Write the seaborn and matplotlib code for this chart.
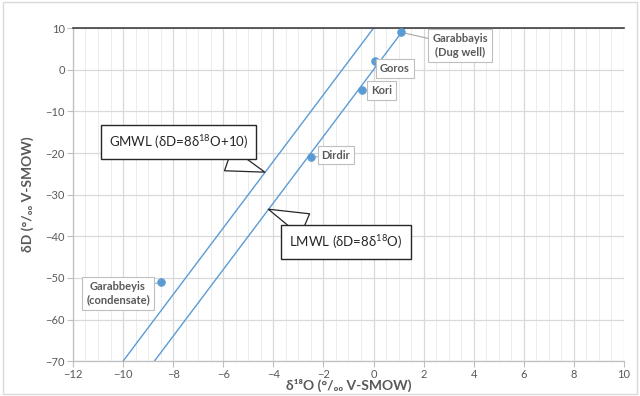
import matplotlib
matplotlib.use("Agg")
import matplotlib.pyplot as plt
import seaborn as sns
import numpy as np
import pandas as pd

# Data
sample_names = ["Garabbayis\n(Dug well)", "Goros", "Kori", "Dirdir", "Garabbeyis\n(condensate)"]
d18O = [1.1, 0.05, -0.45, -2.5, -8.5]
dD = [9.0, 2.0, -4.8, -21.0, -51.0]
label_x = [3.45, 0.85, 0.33, -1.5, -10.2]
label_y = [5.8, 0.3, -4.9, -20.5, -53.7]

gmwl_x = [-10.0, 0.0]
gmwl_y = [-70.0, 10.0]
lmwl_x = [-8.75, 1.25]
lmwl_y = [-70.0, 10.0]

xticks = list(range(-12, 11, 2))
yticks = list(range(-70, 11, 10))

sns.set_theme(style="white")
plt.rcParams['font.family'] = ['Lato', 'DejaVu Sans']
plt.rcParams['mathtext.fontset'] = 'custom'
plt.rcParams['mathtext.rm'] = 'Lato'
plt.rcParams['mathtext.it'] = 'Lato:italic'
plt.rcParams['mathtext.bf'] = 'Lato:bold'

fig = plt.figure(figsize=(6.4, 3.96), dpi=100)
ax = fig.add_axes([0.114, 0.088, 0.861, 0.841])

blue = "#5B9BD5"
lines_df = pd.DataFrame({
    "x": gmwl_x + lmwl_x,
    "y": gmwl_y + lmwl_y,
    "line": ["GMWL"] * 2 + ["LMWL"] * 2,
})
sns.lineplot(data=lines_df, x="x", y="y", units="line", estimator=None,
             color=blue, lw=1.0, ax=ax, legend=False, sort=False)
pts = pd.DataFrame({"x": d18O, "y": dD, "name": sample_names})
sns.scatterplot(data=pts, x="x", y="y", color=blue, s=32, edgecolor=blue,
                ax=ax, legend=False, zorder=5)

ax.set_xlim(-12, 10)
ax.set_ylim(-70, 10)
ax.set_xticks(xticks)
ax.set_yticks(yticks)
ax.set_xticks(np.arange(-12, 10.01, 0.5), minor=True)
ax.grid(True, which="major", color="#d9d9d9", lw=0.9)
ax.grid(True, which="minor", axis="x", color="#ececec", lw=0.7)
ax.set_axisbelow(True)

for s in ["left", "bottom"]:
    ax.spines[s].set_color("#bfbfbf")
    ax.spines[s].set_linewidth(0.9)
ax.spines["right"].set_visible(False)
ax.spines["top"].set_color("#404040")
ax.spines["top"].set_linewidth(1.2)
ax.tick_params(axis="both", which="major", length=4, width=0.8, color="#bfbfbf",
               labelsize=8, labelcolor="#595959", direction="out", left=True, bottom=True,
               pad=2)
ax.tick_params(axis="both", which="minor", length=0)

ax.set_xlabel("δ¹⁸O (°/₀₀ V-SMOW)", fontsize=10, color="#595959",
              fontweight="bold", labelpad=-1)
ax.set_ylabel("δD (°/₀₀ V-SMOW)", fontsize=10, color="#595959",
              fontweight="bold", labelpad=8)

for name, x, y, lx, ly in zip(sample_names, d18O, dD, label_x, label_y):
    ax.annotate(name, xy=(x, y), xytext=(lx, ly), fontsize=8, color="#595959",
                fontweight="bold", ha="center", va="center", multialignment="center",
                linespacing=1.3,
                bbox=dict(boxstyle="square,pad=0.35", fc="white", ec="#bfbfbf", lw=0.8),
                arrowprops=dict(arrowstyle="-", color="#a6a6a6", lw=0.8,
                                shrinkA=0, shrinkB=3), zorder=6)

ax.annotate(r"GMWL (δD=8δ$^{18}$O+10)", xy=(-4.34, -24.6), xytext=(-7.8, -17.4),
            fontsize=9.5, color="#262626", ha="center", va="center",
            bbox=dict(boxstyle="square,pad=0.6", fc="white", ec="#262626", lw=1.0),
            arrowprops=dict(arrowstyle="wedge,tail_width=1.8,shrink_factor=0.5",
                            fc="white", ec="#262626", lw=0.9, shrinkA=0, shrinkB=0),
            zorder=7)
ax.annotate(r"LMWL (δD=8δ$^{18}$O)", xy=(-4.2, -33.5), xytext=(-1.1, -41.4),
            fontsize=9.5, color="#262626", ha="center", va="center",
            bbox=dict(boxstyle="square,pad=0.6", fc="white", ec="#262626", lw=1.0),
            arrowprops=dict(arrowstyle="wedge,tail_width=1.8,shrink_factor=0.5",
                            fc="white", ec="#262626", lw=0.9, shrinkA=0, shrinkB=0),
            zorder=7)

fig.patches.append(plt.Rectangle((0.005, 0.005), 0.99, 0.99, transform=fig.transFigure,
                                 fill=False, ec="#d9d9d9", lw=1.0))
fig.savefig("out.png", dpi=100)
